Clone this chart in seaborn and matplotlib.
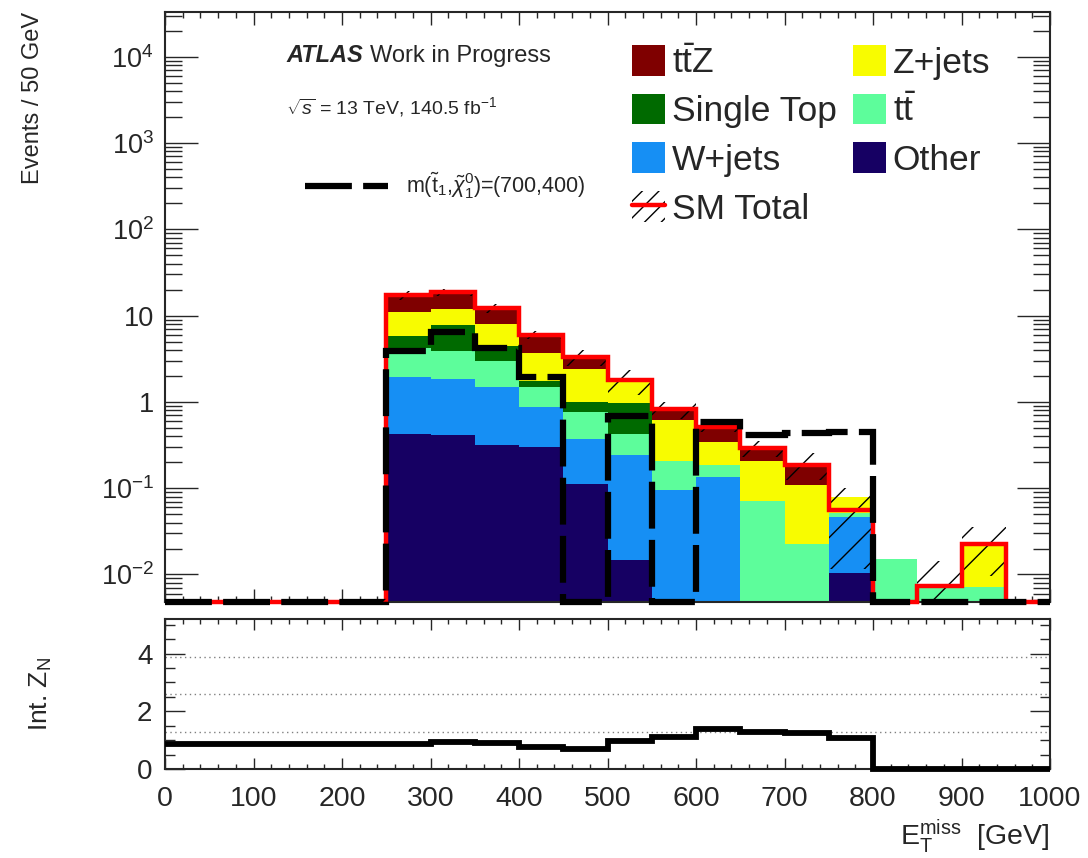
import numpy as np
import pandas as pd
import matplotlib
matplotlib.use("Agg")
import matplotlib.pyplot as plt
from matplotlib.patches import Patch
from matplotlib.lines import Line2D
from matplotlib.legend_handler import HandlerTuple
from matplotlib.ticker import FixedLocator, FixedFormatter, MultipleLocator, LogLocator, NullFormatter
import seaborn as sns

# ---- binning: E_T^miss in 50 GeV bins ----
edges = np.arange(0, 1050, 50)
centers = edges[:-1] + 25

# ---- background yields per bin (events / 50 GeV) ----
ttz = [0, 0, 0, 0, 0, 6.2, 6.6, 4.23, 2.3, 0.9, 0, 0.2, 0.171, 0.084, 0.078, 0, 0, 0, 0, 0]
zjets = [0, 0, 0, 0, 0, 5.25, 4.3, 3.57, 1.95, 1.4, 0.80, 0.414, 0.157, 0.135, 0.087, 0.0275, 0, 0, 0.0153, 0]
single_top = [0, 0, 0, 0, 0, 1.55, 3.8, 1.56, 0.25, 0.23, 0.56, 0, 0, 0, 0, 0, 0, 0, 0, 0]
ttbar = [0, 0, 0, 0, 0, 2.23, 2.07, 1.44, 0.63, 0.40, 0.178, 0.111, 0.053, 0.0706, 0.0227, 0.0055, 0.0152, 0.0074, 0.0072, 0]
wjets = [0, 0, 0, 0, 0, 1.55, 1.42, 1.18, 0.57, 0.259, 0.227, 0.095, 0.135, 0, 0, 0.0356, 0, 0, 0, 0]
other = [0, 0, 0, 0, 0, 0.42, 0.41, 0.32, 0.30, 0.111, 0.0148, 0, 0, 0, 0, 0.0104, 0, 0, 0, 0]

# ---- SM total and its uncertainty ----
sm_total = [0, 0, 0, 0, 0, 17.2, 18.6, 12.3, 6.0, 3.3, 1.78, 0.82, 0.516, 0.29, 0.188, 0.0555, 0, 0.0074, 0.0225, 0]
sm_unc = [0, 0, 0, 0, 0, 1.9, 1.8, 1.5, 0.6, 0.7, 0.58, 0.18, 0.07, 0.06, 0.065, 0.044, 0, 0.0071, 0.013, 0]

# ---- signal m(stop, LSP) = (700, 400) ----
signal = [0, 0, 0, 0, 0, 3.9, 6.5, 4.2, 1.92, 0, 0.69, 0, 0.59, 0.41, 0.44, 0.45, 0, 0, 0, 0]

# ---- integrated significance Z_N ----
int_zn = [0.88, 0.88, 0.88, 0.88, 0.88, 0.88, 0.95, 0.89, 0.78, 0.70,
          0.98, 1.10, 1.38, 1.30, 1.24, 1.07, 0, 0, 0, 0]
zn_guides = [1.3, 2.6, 3.9]

process_names = ["ttZ", "Z+jets", "Single Top", "ttbar", "W+jets", "Other"]
process_values = [ttz, zjets, single_top, ttbar, wjets, other]
colors = {
    "ttZ": "#7f0000",
    "Z+jets": "#f8fc00",
    "Single Top": "#006a00",
    "ttbar": "#5dfd9b",
    "W+jets": "#168ff4",
    "Other": "#160063",
}

df = pd.DataFrame({
    "met": np.tile(centers, len(process_names)).astype(float),
    "process": np.repeat(process_names, len(centers)),
    "events": np.concatenate([np.asarray(v, float) for v in process_values]),
})

sns.set_theme(style="ticks")
plt.rcParams["font.family"] = ["Liberation Sans", "DejaVu Sans"]
plt.rcParams["mathtext.fontset"] = "custom"
plt.rcParams["mathtext.rm"] = "Liberation Sans"
plt.rcParams["mathtext.it"] = "Liberation Sans:italic"
plt.rcParams["mathtext.bf"] = "Liberation Sans:bold"
plt.rcParams["hatch.linewidth"] = 1.0
plt.rcParams["axes.linewidth"] = 1.5

W, H = 1088, 858
fig = plt.figure(figsize=(W / 100, H / 100), dpi=100)
ax = fig.add_axes([165 / W, 1 - 602 / H, 885 / W, 590 / H])
ax2 = fig.add_axes([165 / W, 1 - 769 / H, 885 / W, 150 / H])

y_lo, y_hi = 0.0048, 3.3e4
ax.set_yscale("log")

sns.histplot(data=df, x="met", weights="events", hue="process", hue_order=process_names,
             palette=colors, multiple="stack", binwidth=50, binrange=(0, 1000),
             element="step", fill=True, alpha=1.0, linewidth=0, legend=False, ax=ax)

tot = np.asarray(sm_total, float)
unc = np.asarray(sm_unc, float)
ax.stairs(tot + unc, edges, baseline=np.maximum(tot - unc, 1e-6), fill=True,
          facecolor="none", edgecolor="black", hatch="/", linewidth=0, zorder=4)
ax.stairs(np.maximum(tot, y_lo), edges, baseline=None, color="red", linewidth=3.2,
          zorder=5, clip_on=False)
sig_style = (0, (7.5, 1.8))
ax.stairs(np.maximum(np.asarray(signal, float), y_lo), edges, baseline=None, color="black",
          linewidth=4.5, linestyle=sig_style, zorder=6, clip_on=False)

ax.set_xlim(0, 1000)
ax.set_ylim(y_lo, y_hi)
ax.set_xlabel("")
ax.set_ylabel("Events / 50 GeV", fontsize=17, loc="top")
ax.yaxis.set_label_coords(-0.137, 1.0)

dec = [1e-2, 1e-1, 1, 10, 1e2, 1e3, 1e4]
dec_labels = [r"$10^{-2}$", r"$10^{-1}$", "1", "10", r"$10^{2}$", r"$10^{3}$", r"$10^{4}$"]
ax.yaxis.set_major_locator(FixedLocator(dec))
ax.yaxis.set_major_formatter(FixedFormatter(dec_labels))
ax.yaxis.set_minor_locator(LogLocator(base=10, subs=np.arange(2, 10), numticks=30))
ax.yaxis.set_minor_formatter(NullFormatter())
ax.xaxis.set_major_locator(MultipleLocator(100))
ax.xaxis.set_minor_locator(MultipleLocator(20))
ax.tick_params(axis="both", which="both", direction="in", top=True, right=True,
               labelbottom=False, width=1.0)
ax.tick_params(axis="x", which="major", length=9.5)
ax.tick_params(axis="x", which="minor", length=4.5)
ax.tick_params(axis="y", which="major", length=24, labelsize=19.5, pad=8)
ax.tick_params(axis="y", which="minor", length=12)

# ---- legends ----
proc_handle = {n: Patch(facecolor=colors[n], edgecolor="none") for n in process_names}
sm_handle = (Patch(facecolor="none", edgecolor="black", hatch="//", linewidth=0),
             Line2D([], [], color="red", linewidth=3.2))
handles = [proc_handle["ttZ"], proc_handle["Single Top"], proc_handle["W+jets"], sm_handle,
           proc_handle["Z+jets"], proc_handle["ttbar"], proc_handle["Other"]]
labels = [r"$\mathrm{t\bar{t}Z}$", "Single Top", "W+jets", "SM Total",
          "Z+jets", r"$\mathrm{t\bar{t}}$", "Other"]
leg = ax.legend(handles, labels, ncol=2, loc="upper left",
                bbox_to_anchor=(632 / W, 1 - 45 / H), bbox_transform=fig.transFigure,
                frameon=False, fontsize=25.5, handlelength=0.93, handleheight=0.96,
                handletextpad=0.2, labelspacing=0.4, columnspacing=0.45,
                borderpad=0, borderaxespad=0,
                handler_map={tuple: HandlerTuple(ndivide=1)})
ax.add_artist(leg)

ax.legend([Line2D([], [], color="black", linewidth=4.5, linestyle=sig_style)],
          [r"m($\mathrm{\tilde{t}}_{1}$,$\tilde{\chi}_{1}^{0}$)=(700,400)"],
          loc="center left", bbox_to_anchor=(305 / W, 1 - 186 / H),
          bbox_transform=fig.transFigure, frameon=False, fontsize=15.5,
          handlelength=3.85, handletextpad=0.85, borderpad=0, borderaxespad=0)

fig.text(286 / W, 1 - 62 / H, "ATLAS", fontsize=17, fontweight="bold", fontstyle="italic",
         va="baseline", ha="left")
fig.text(370 / W, 1 - 62 / H, "Work in Progress", fontsize=17, va="baseline", ha="left")
fig.text(286 / W, 1 - 114 / H, r"$\sqrt{s}$ = 13 TeV, 140.5 fb$^{-1}$", fontsize=14,
         va="baseline", ha="left")

# ---- lower panel: integrated Z_N ----
for g in zn_guides:
    ax2.axhline(g, color="#808080", linewidth=1.0, linestyle=(0, (1, 2.5)), zorder=1)
ax2.stairs(int_zn, edges, baseline=None, color="black", linewidth=4.2, zorder=3, clip_on=False)
ax2.set_xlim(0, 1000)
ax2.set_ylim(0, 5.2)
ax2.xaxis.set_major_locator(MultipleLocator(100))
ax2.xaxis.set_minor_locator(MultipleLocator(20))
ax2.yaxis.set_major_locator(MultipleLocator(2))
ax2.yaxis.set_minor_locator(MultipleLocator(0.5))
ax2.tick_params(axis="both", which="both", direction="in", top=True, right=True, width=1.0)
ax2.tick_params(axis="x", which="major", length=8, labelsize=20.5, pad=12)
ax2.tick_params(axis="x", which="minor", length=3.6)
ax2.tick_params(axis="y", which="major", length=14.5, labelsize=20, pad=9)
ax2.tick_params(axis="y", which="minor", length=7)
ax2.set_ylabel(r"Int. Z$_{\mathrm{N}}$", fontsize=19)
ax2.yaxis.set_label_coords(-0.125, 0.5)
ax2.set_xlabel(r"$\mathrm{E}_{\mathrm{T}}^{\mathrm{miss}}$  [GeV]", fontsize=20.5, loc="right")

fig.savefig("out.png", dpi=100)
